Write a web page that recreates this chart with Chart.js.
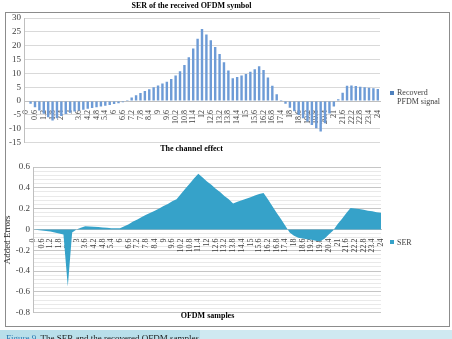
<!DOCTYPE html>
<html>
<head>
<meta charset="utf-8">
<script src="https://cdn.jsdelivr.net/npm/chart.js@4.4.1/dist/chart.umd.min.js"></script>
<style>
  body { margin:0; background:#fff; width:452px; height:339px; overflow:hidden; position:relative; font-family:"Liberation Serif", serif; }
  #frame { position:absolute; left:5px; top:12px; width:443px; height:313px; border:1px solid #8c8c8c; }
  canvas { position:absolute; left:0; }
  #topChart { top:0; }
  #bottomChart { top:140px; }
  .legend { position:absolute; font-size:8px; color:#404040; line-height:9px; }
  .legend i { position:absolute; width:4px; height:4px; left:-7px; top:3px; }
  #xTitle { position:absolute; left:33px; width:349px; top:311px; text-align:center; font-size:8px; font-weight:bold; line-height:10px; }
  #caption { position:absolute; left:0; top:330px; width:452px; height:9px; overflow:hidden; background:#cfe9f1; }
  #caption span { display:block; width:200px; height:9px; background:#b9dfea; padding:3px 0 0 6px; font-size:9px; line-height:10px; color:#1a1a1a; white-space:nowrap; box-sizing:border-box; }
  #caption b { font-weight:normal; color:#2c79b3; }
</style>
</head>
<body>
<div id="frame"></div>
<canvas id="topChart" width="432" height="151"></canvas>
<canvas id="bottomChart" width="432" height="181"></canvas>
<div class="legend" style="left:397px; top:88px;"><i style="background:#4f81bd"></i>Recoverd<br>PFDM signal</div>
<div class="legend" style="left:397px; top:238px;"><i style="background:#36a2c9; top:2px;"></i>SER</div>
<div id="xTitle">OFDM samples</div>
<div id="caption"><span><b>Figure 9.</b> The SER and the recovered OFDM samples</span></div>
<script>
// OFDM sample positions (every 0.3), labels shown every other one
const categories = ['0','0.3','0.6','0.9','1.2','1.5','1.8','2.1','2.4','2.7','3','3.3','3.6','3.9','4.2','4.5','4.8','5.1','5.4','5.7',
  '6','6.3','6.6','6.9','7.2','7.5','7.8','8.1','8.4','8.7','9','9.3','9.6','9.9','10.2','10.5','10.8','11.1','11.4','11.7',
  '12','12.3','12.6','12.9','13.2','13.5','13.8','14.1','14.4','14.7','15','15.3','15.6','15.9','16.2','16.5','16.8','17.1','17.4','17.7',
  '18','18.3','18.6','18.9','19.2','19.5','19.8','20.1','20.4','20.7','21','21.3','21.6','21.9','22.2','22.5','22.8','23.1','23.4','23.7','24'];

const recoveredSignal = [
  0, -1, -2.2, -3.4, -4.6, -5.8, -7, -6.2, -5.4, -4.7,
  -4.2, -3.8, -3.4, -3.1, -2.8, -2.5, -2.2, -2, -1.7, -1.4,
  -1.1, -0.8, -0.4, 0.4, 1.3, 2.1, 2.9, 3.6, 4.3, 5,
  5.6, 6.3, 7, 8, 9.2, 10.8, 13, 15.8, 19, 22.5,
  26, 24, 22, 19.5, 17, 14, 11, 8.2, 8.7, 9.2,
  9.8, 10.6, 11.5, 12.6, 11.2, 8.5, 5.5, 2.5, 0.4, -1,
  -2.4, -3.7, -5, -6.2, -7.4, -8.6, -9.8, -11, -8, -4.5,
  -2, 0.7, 3, 5.5, 5.6, 5.4, 5.2, 5, 4.8, 4.6, 4.4
];

const serValues = [
  0, -0.005, -0.01, -0.015, -0.02, -0.03, -0.04, -0.05, -0.55, -0.03,
  0, 0.015, 0.03, 0.028, 0.025, 0.022, 0.018, 0.015, 0.012, 0.01,
  0.01, 0.03, 0.05, 0.075, 0.095, 0.12, 0.14, 0.16, 0.18, 0.2, 0.225, 0.245, 0.27, 0.29,
  0.34, 0.39, 0.44, 0.49, 0.535,
  0.5, 0.46, 0.43, 0.39, 0.36, 0.32, 0.29, 0.25,
  0.265, 0.28, 0.295, 0.31, 0.325, 0.34, 0.35,
  0.29, 0.225, 0.16, 0.1, 0.035,
  -0.03, -0.06, -0.08, -0.088, -0.095, -0.1, -0.108, -0.115, -0.09, -0.05, -0.01,
  0.05, 0.1, 0.155, 0.205, 0.2, 0.195, 0.19, 0.18, 0.175, 0.165, 0.16
];

const topYTicks = [-15, -10, -5, 0, 5, 10, 15, 20, 25, 30];
const bottomYLabels = [-0.8, -0.6, -0.4, -0.2, 0, 0.2, 0.4, 0.6];

const tickFont = { family: 'Liberation Serif', size: 8 };
const yFont = { family: 'Liberation Serif', size: 9 };
const titleFont = { family: 'Liberation Serif', size: 8, weight: 'bold' };
const xTicks = {
  autoSkip: false, maxRotation: 90, minRotation: 90, padding: 1,
  font: tickFont, color: '#404040',
  callback: (v, i) => i % 2 === 0 ? categories[i] : ''
};

new Chart(document.getElementById('topChart'), {
  type: 'bar',
  data: {
    labels: categories,
    datasets: [{
      label: 'Recoverd PFDM signal',
      data: recoveredSignal,
      backgroundColor: '#6d9bd6',
      borderColor: '#4f81bd',
      borderWidth: 0,
      barPercentage: 0.55,
      categoryPercentage: 1
    }]
  },
  options: {
    responsive: false,
    animation: false,
    layout: { padding: { left: 3, right: 52, top: 0, bottom: 5 } },
    plugins: {
      legend: { display: false },
      tooltip: { enabled: false },
      title: { display: true, text: 'SER of the received OFDM symbol', font: titleFont, color: '#000', padding: { top: 1, bottom: 7.4 } }
    },
    scales: {
      x: {
        position: { y: 0 }, grid: { display: false }, border: { color: '#bfbfbf' }, ticks: xTicks,
        afterFit: s => { s.height = 0; }
      },
      y: {
        min: -15, max: 30,
        afterBuildTicks: s => { s.ticks = topYTicks.map(v => ({ value: v })); },
        afterFit: s => { s.width = 21; },
        ticks: { font: yFont, color: '#404040', padding: 3 },
        grid: { color: '#d9d9d9', drawTicks: false },
        border: { color: '#bfbfbf' }
      }
    }
  }
});

new Chart(document.getElementById('bottomChart'), {
  type: 'line',
  data: {
    labels: categories,
    datasets: [{
      label: 'SER',
      data: serValues,
      fill: 'origin',
      backgroundColor: '#36a2c9',
      borderWidth: 0,
      pointRadius: 0,
      tension: 0
    }]
  },
  options: {
    responsive: false,
    animation: false,
    layout: { padding: { left: 2, right: 51, top: 0, bottom: 5 } },
    plugins: {
      legend: { display: false },
      tooltip: { enabled: false },
      title: { display: true, text: 'The channel effect', font: titleFont, color: '#000', padding: { top: 4, bottom: 13.4 } }
    },
    scales: {
      x: {
        position: { y: 0 }, grid: { display: false }, border: { color: '#bfbfbf' }, ticks: xTicks,
        afterFit: s => { s.height = 0; }
      },
      y: {
        min: -0.8, max: 0.6,
        afterFit: s => { s.width = 31; },
        title: { display: true, text: 'Added Errors', font: { family: 'Liberation Serif', size: 9 }, color: '#262626', padding: { top: 0, bottom: 1 } },
        ticks: {
          stepSize: 0.04, autoSkip: false, font: yFont, color: '#404040', padding: 3,
          callback: v => {
            const hit = bottomYLabels.find(l => Math.abs(l - v) < 1e-6);
            return hit === undefined ? '' : String(hit);
          }
        },
        grid: {
          drawTicks: false,
          color: c => bottomYLabels.some(l => Math.abs(l - c.tick.value) < 1e-6) ? '#c6c6c6' : '#e9e9e9'
        },
        border: { color: '#bfbfbf' }
      }
    }
  }
});
</script>
</body>
</html>
